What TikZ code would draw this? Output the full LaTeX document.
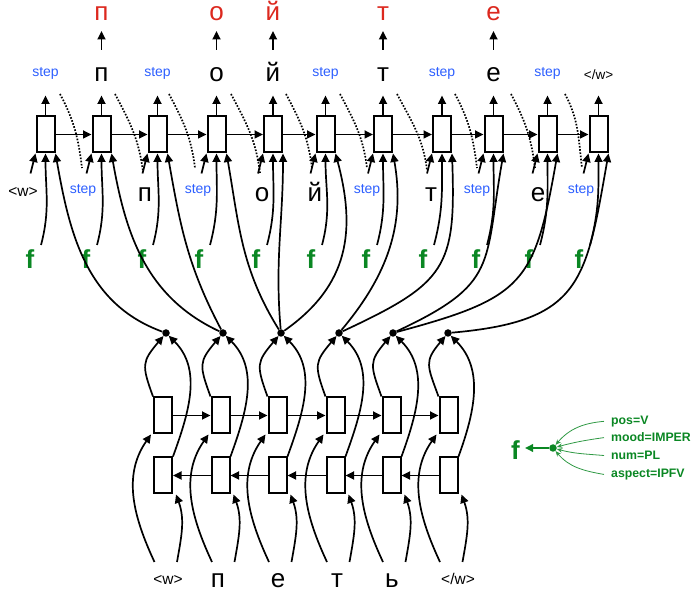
\documentclass[tikz,border=0pt]{standalone}
\usepackage{fontspec}
\setmainfont{Liberation Sans}
\usetikzlibrary{arrows.meta}
\definecolor{stepblue}{RGB}{45,95,255}
\definecolor{outred}{RGB}{220,40,30}
\definecolor{fgreen}{RGB}{10,135,35}
\newcommand\fsLetter{\fontsize{26}{26}\selectfont}
\newcommand\fsStep{\fontsize{14}{14}\selectfont}
\newcommand\fsTag{\fontsize{15.5}{15.5}\selectfont}
\newcommand\fsTagS{\fontsize{13.5}{13.5}\selectfont}
\newcommand\fsF{\fontsize{26}{26}\selectfont\bfseries}
\newcommand\fsFeat{\fontsize{12.3}{12.3}\selectfont\bfseries}
\begin{document}
\begin{tikzpicture}[x=1pt,y=1pt,
  arr/.style={line width=1.7pt,-{Triangle[length=8.5pt,width=8pt]}},
  garr/.style={line width=1.8pt,fgreen,-{Triangle[length=8pt,width=7.5pt]}},
  gthin/.style={line width=0.8pt,fgreen!85,-{Stealth[length=5.5pt,width=4.5pt]}},
  rnnbox/.style={draw,line width=2pt,minimum width=18pt,minimum height=36pt,inner sep=0pt,fill=white},
  steplab/.style={inner sep=0pt,anchor=base,text=stepblue,font=\fsStep},
  letlab/.style={inner sep=0pt,anchor=base,font=\fsLetter},
  redlab/.style={inner sep=0pt,anchor=base,font=\fsLetter,text=outred},
  taglab/.style={inner sep=0pt,anchor=base,font=\fsTag},
  flab/.style={inner sep=0pt,anchor=base,font=\fsF,text=fgreen},
  featlab/.style={inner sep=0pt,anchor=base west,font=\fsFeat,text=fgreen},
  dotn/.style={circle,fill=black,inner sep=0pt,minimum size=7.5pt},
  dotline/.style={line width=1.7pt,dash pattern=on 1.6pt off 1.6pt}
]
\useasboundingbox (0,0) rectangle (694,592);

% ---------- decoder ----------
\foreach \x [count=\i] in {45.5,101.5,157.5,216.5,273,325.5,383,442,493.5,547.5,598.5}
  \node[rnnbox] (d\i) at (\x,457.5) {};
\foreach \i [evaluate=\i as \j using int(\i+1)] in {1,...,10}
  \draw[arr] (d\i.east) -- (d\j.west);

% labels above decoder
\node[steplab] (t1) at (45.5,515) {step};
\node[letlab] (t2) at (101.5,510) {п};
\node[steplab] (t3) at (157.5,515) {step};
\node[letlab] (t4) at (216.5,510) {о};
\node[letlab] (t5) at (273,510) {й};
\node[steplab] (t6) at (325.5,515) {step};
\node[letlab] (t7) at (383,510) {т};
\node[steplab] (t8) at (442,515) {step};
\node[letlab] (t9) at (493.5,510) {е};
\node[steplab] (t10) at (547.5,515) {step};
\node[taglab,font=\fsTagS] (t11) at (598.5,512.5) {</w>};

\foreach \i in {1,...,11}{
  \path (d\i.north) ++(0,20) coordinate (u\i);
  \draw[arr] (d\i.north) -- (u\i);
}

% red outputs
\node[redlab] (r2) at (101.5,571) {п};
\node[redlab] (r4) at (216.5,571) {о};
\node[redlab] (r5) at (273,571) {й};
\node[redlab] (r7) at (383,571) {т};
\node[redlab] (r9) at (493.5,571) {е};
\foreach \i in {2,4,5,7,9}
  \draw[arr] ([yshift=32pt]t\i.base) -- ([yshift=-10pt]r\i.base);

% dotted step lines
\foreach \xa/\xb/\yb in {60/82/424,115/143/420,169/195/424,231/260/419,286/312/424,340/367/424,397/427/422,455/477/424,511/535/424,565/582/424}
  \draw[dotline] (\xa,498) to[out=-62,in=97] (\xb,\yb);

% labels below decoder
\node[taglab] (b1) at (23,395) {<w>};
\node[steplab] (b2) at (83,398) {step};
\node[letlab] (b3) at (145,390) {п};
\node[steplab] (b4) at (198,398) {step};
\node[letlab] (b5) at (262,390) {о};
\node[letlab] (b6) at (315,390) {й};
\node[steplab] (b7) at (367,398) {step};
\node[letlab] (b8) at (431,390) {т};
\node[steplab] (b9) at (477,398) {step};
\node[letlab] (b10) at (538,390) {е};
\node[steplab] (b11) at (581,398) {step};

\foreach \i in {1,...,11}
  \draw[arr] ([shift={(-5,-20)}]d\i.south west) -- (d\i.south west);

% f inputs
\foreach \x [count=\i] in {30,86,142,199,256,311,366,423,476,529,579}{
  \node[flab] (f\i) at (\x,323) {f};
  \draw[arr] ([shift={(11,24)}]f\i.base) to[out=75,in=-90] (d\i.south);
}

% attention dots
\foreach \x [count=\i] in {166,223,281,339,393,448}
  \node[dotn] (a\i) at (\x,259) {};

\foreach \a/\d/\o/\n/\l in {1/1/160/-80/1, 2/2/155/-80/1, 2/3/118/-80/1, 3/4/122/-80/1, 3/5/95/-90/1, 3/6/35/-75/1.1, 4/7/50/-80/1, 4/8/25/-88/1.4, 5/9/25/-100/1.4, 5/10/15/-100/1.4, 6/11/5/-100/1.4}
  \draw[arr] (a\a) to[out=\o,in=\n,looseness=\l] (d\d.south east);

% ---------- encoder ----------
\foreach \x [count=\i] in {163,220.5,277.5,335.5,391.5,448.5}{
  \node[rnnbox] (ef\i) at (\x,176.5) {};
  \node[rnnbox] (eb\i) at (\x,116.5) {};
  \coordinate (il\i) at (\x-8.5,30);
  \coordinate (ir\i) at (\x+14,30);
}
\foreach \i [evaluate=\i as \j using int(\i+1)] in {1,...,5}{
  \draw[arr] (ef\i.east) -- (ef\j.west);
  \draw[arr] (eb\j.west) -- (eb\i.east);
}

\node[taglab] (i1) at (168,7) {<w>};
\node[letlab] (i2) at (218,4) {п};
\node[letlab] (i3) at (278,4) {е};
\node[letlab] (i4) at (337,4) {т};
\node[letlab] (i5) at (392,4) {ь};
\node[taglab] (i6) at (458,7) {</w>};

\foreach \i in {1,...,6}{
  \draw[arr] (il\i) to[out=115,in=-125] ([xshift=-2pt]ef\i.south west);
  \draw[arr] (ir\i) to[out=80,in=-70] ([xshift=3pt]eb\i.south east);
  \draw[arr] (ef\i.north west) to[out=110,in=-130,looseness=1.4] (a\i);
  \draw[arr] (eb\i.north east) to[out=70,in=-45] (a\i);
}

% ---------- legend ----------
\node[flab] (lf) at (515.5,132) {f};
\node[dotn,fill=fgreen] (ld) at (553,144) {};
\coordinate (lfa) at (525,144);
\draw[garr] (ld) -- (lfa);
\node[featlab] (p1) at (611,167.7) {pos=V};
\node[featlab] (p2) at (611,150) {mood=IMPER};
\node[featlab] (p3) at (611,132.3) {num=PL};
\node[featlab] (p4) at (611,114.6) {aspect=IPFV};
\draw[gthin] ([xshift=-7pt]p1.west) to[out=185,in=50] (ld);
\draw[gthin] ([xshift=-7pt]p2.west) to[out=188,in=15] (ld);
\draw[gthin] ([xshift=-7pt]p3.west) to[out=175,in=-15] (ld);
\draw[gthin] ([xshift=-7pt]p4.west) to[out=170,in=-50] (ld);
\end{tikzpicture}
\end{document}
